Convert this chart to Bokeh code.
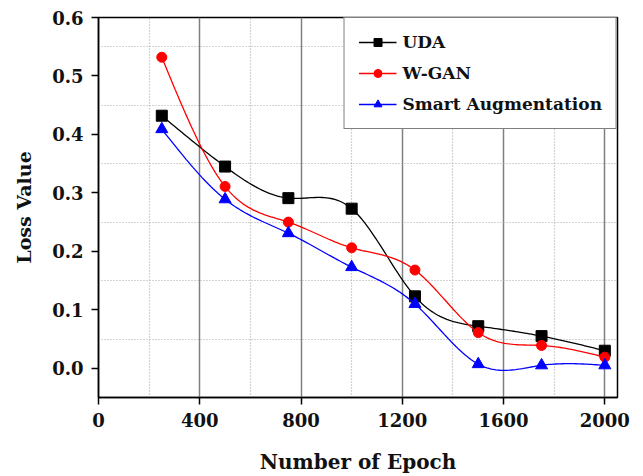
import numpy as np
from bokeh.plotting import figure
from bokeh.models import FixedTicker, Range1d, Legend, LegendItem, CustomJSTickFormatter
from bokeh.embed import file_html
from bokeh.resources import INLINE

# ---- data ----
epochs = [250, 500, 750, 1000, 1250, 1500, 1750, 2000]
uda = [0.432, 0.345, 0.291, 0.273, 0.123, 0.072, 0.055, 0.030]
wgan = [0.532, 0.311, 0.250, 0.206, 0.168, 0.061, 0.039, 0.019]
smart = [0.409, 0.289, 0.231, 0.173, 0.110, 0.007, 0.005, 0.005]

x_ticks = [0, 400, 800, 1200, 1600, 2000]
x_minor = [200, 600, 1000, 1400, 1800]
y_ticks = [0.0, 0.1, 0.2, 0.3, 0.4, 0.5, 0.6]
y_minor = [0.05, 0.15, 0.25, 0.35, 0.45, 0.55]


def natural_spline(x, y, n=200):
    """Smooth curve through the data points (natural cubic spline), as drawn by the original."""
    x = np.asarray(x, float)
    y = np.asarray(y, float)
    k = len(x)
    h = np.diff(x)
    A = np.zeros((k, k))
    r = np.zeros(k)
    A[0, 0] = 1.0
    A[-1, -1] = 1.0
    for i in range(1, k - 1):
        A[i, i - 1] = h[i - 1]
        A[i, i] = 2 * (h[i - 1] + h[i])
        A[i, i + 1] = h[i]
        r[i] = 6 * ((y[i + 1] - y[i]) / h[i] - (y[i] - y[i - 1]) / h[i - 1])
    M = np.linalg.solve(A, r)
    xs = np.linspace(x[0], x[-1], n)
    idx = np.clip(np.searchsorted(x, xs) - 1, 0, k - 2)
    x0, x1 = x[idx], x[idx + 1]
    hh = x1 - x0
    a = (x1 - xs) / hh
    b = (xs - x0) / hh
    ys = (a * y[idx] + b * y[idx + 1]
          + ((a ** 3 - a) * M[idx] + (b ** 3 - b) * M[idx + 1]) * hh ** 2 / 6)
    return xs, ys


FONT = "DejaVu Serif"
TEXT = "#111111"

p = figure(width=643, height=476, output_backend="svg", toolbar_location=None,
           x_range=Range1d(0, 2050), y_range=Range1d(-0.05, 0.6),
           min_border_left=98, min_border_right=26, min_border_top=17, min_border_bottom=79)
p.background_fill_color = "white"
p.border_fill_color = "white"
p.outline_line_color = "black"
p.outline_line_width = 1.5

p.xaxis.ticker = FixedTicker(ticks=x_ticks, minor_ticks=x_minor)
p.yaxis.ticker = FixedTicker(ticks=y_ticks, minor_ticks=y_minor)
p.yaxis.formatter = CustomJSTickFormatter(code="return tick.toFixed(1);")

for ax in (p.xaxis[0], p.yaxis[0]):
    ax.axis_line_color = "black"
    ax.axis_line_width = 1.5
    ax.major_tick_line_color = "black"
    ax.major_tick_line_width = 1.5
    ax.major_tick_out = 7
    ax.major_tick_in = 0
    ax.minor_tick_line_color = None
    ax.major_label_text_font = FONT
    ax.major_label_text_font_style = "bold"
    ax.major_label_text_font_size = "18px"
    ax.major_label_text_color = TEXT
    ax.major_label_standoff = 8
    ax.axis_label_text_font = FONT
    ax.axis_label_text_font_style = "bold"
    ax.axis_label_text_color = TEXT

p.xaxis.axis_label = "Number of Epoch"
p.xaxis.axis_label_text_font_size = "20px"
p.xaxis.axis_label_standoff = 20
p.yaxis.axis_label = "Loss Value"
p.yaxis.axis_label_text_font_size = "19px"
p.yaxis.axis_label_standoff = 14

# grids
p.xgrid.grid_line_color = "#808080"
p.xgrid.grid_line_width = 1.5
p.xgrid.minor_grid_line_color = "#a8a8a8"
p.xgrid.minor_grid_line_dash = "1 2"
p.xgrid.minor_grid_line_width = 1.2
p.ygrid.grid_line_color = None
p.ygrid.minor_grid_line_color = "#a8a8a8"
p.ygrid.minor_grid_line_dash = "1 2"
p.ygrid.minor_grid_line_width = 1.2

series = [
    ("UDA", uda, "black", "square", 11),
    ("W-GAN", wgan, "red", "circle", 10),
    ("Smart Augmentation", smart, "blue", "triangle", 12),
]
items = []
for name, vals, color, marker, size in series:
    xs, ys = natural_spline(epochs, vals)
    ln = p.line(xs, ys, line_color=color, line_width=1.3)
    mk = p.scatter(epochs, vals, marker=marker, size=size, fill_color=color, line_color=color)
    items.append(LegendItem(label=name, renderers=[ln, mk]))

legend = Legend(items=items, location="top_right")
legend.margin = 0
legend.padding = 14
legend.spacing = 11
legend.glyph_width = 38
legend.glyph_height = 20
legend.label_height = 20
legend.label_standoff = 6
legend.label_text_font = FONT
legend.label_text_font_style = "bold"
legend.label_text_font_size = "17px"
legend.label_text_color = TEXT
legend.border_line_color = "black"
legend.border_line_width = 1.8
legend.background_fill_color = "white"
legend.background_fill_alpha = 1.0
p.add_layout(legend, "center")

open("out.html", "w").write(file_html(p, INLINE))
